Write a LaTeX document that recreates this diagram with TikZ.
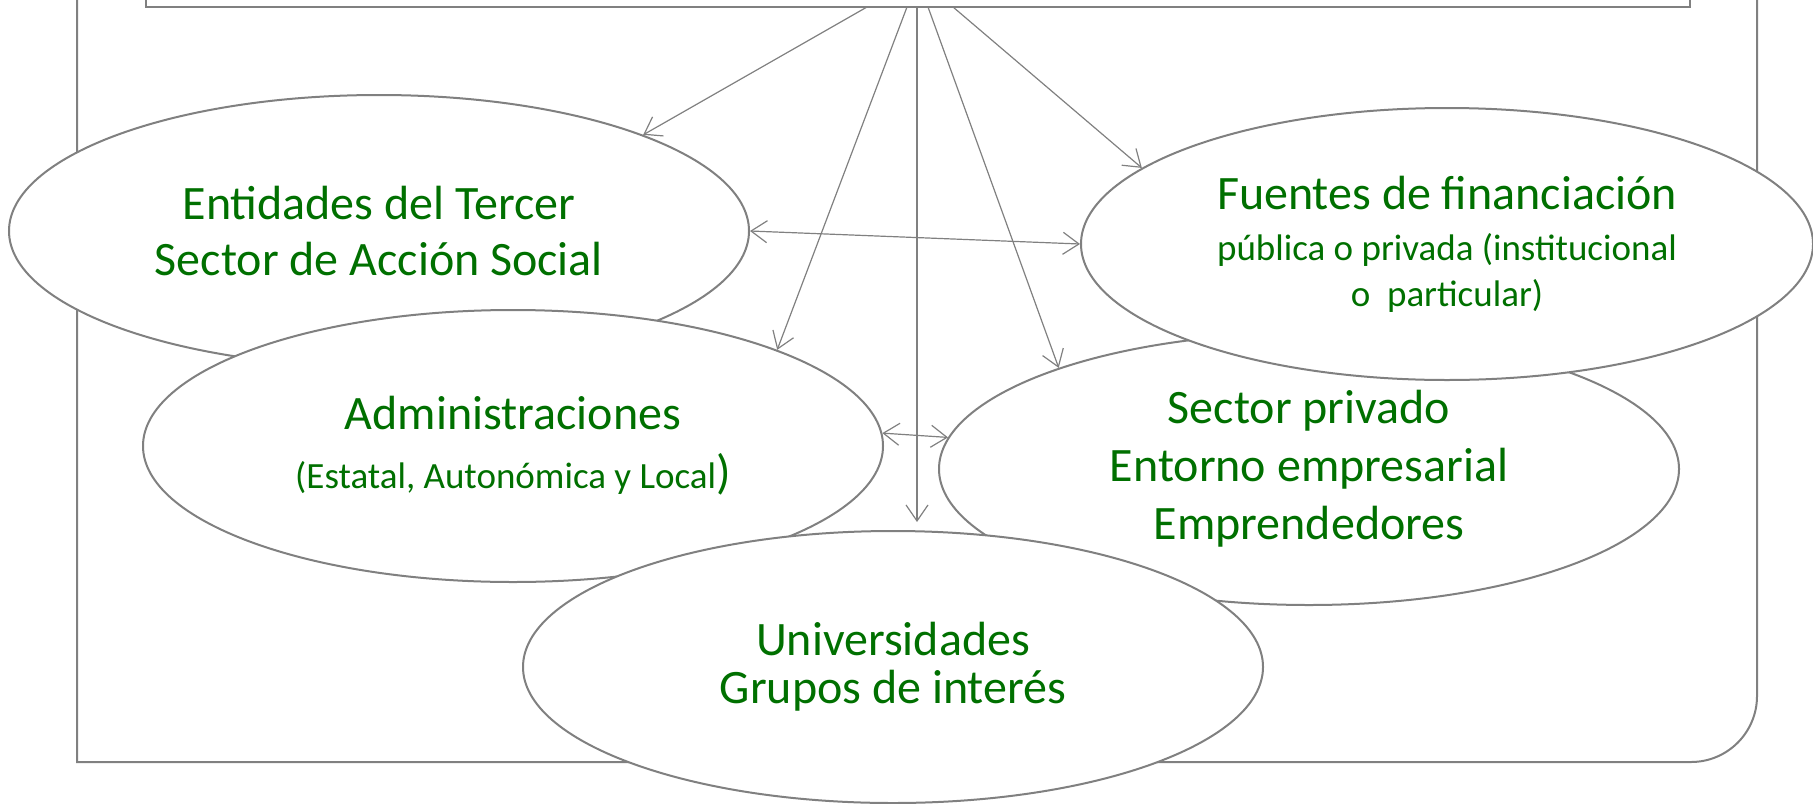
\documentclass[tikz,border=0pt]{standalone}
\usepackage{fontspec}
\setmainfont{Carlito}
\usetikzlibrary{shapes.geometric}
\usetikzlibrary{arrows.meta}
\definecolor{linegray}{RGB}{128,128,128}
\definecolor{txtgreen}{RGB}{0,112,0}
\tikzset{
  ell/.style={ellipse, draw=linegray, line width=1pt, fill=white, text=txtgreen,
    align=center, inner sep=0pt, minimum width=370pt, minimum height=136pt,
    font=\fontsize{24}{28}\selectfont},
  conn/.style={draw=linegray, line width=0.6pt, -{Straight Barb[length=8pt,width=11pt]}},
  conns/.style={conn, {Straight Barb[length=8pt,width=11pt]}-{Straight Barb[length=8pt,width=11pt]}}
}

\begin{document}
\begin{tikzpicture}[x=0.5pt,y=-0.5pt]
  \useasboundingbox (0,0) rectangle (1813,803);
  \draw[linegray, line width=1pt] (77,-20) -- (77,762) -- (1691,762)
    arc[start angle=-90, end angle=0, radius=33pt] -- (1757,-20);
  \draw[linegray, line width=1.3pt] (146,-20) -- (146,7) -- (1690,7) -- (1690,-20);
  \coordinate (o1) at (867,7);
  \coordinate (o2) at (907,7);
  \coordinate (o3) at (917,7);
  \coordinate (o4) at (928,7);
  \coordinate (o5) at (953,7);
  \node[ell] (ent) at (379,231) {Entidades del Tercer\\Sector de Acción Social};
  \node[ell, font=\fontsize{24}{27.5}\selectfont] (adm) at (513,446)
    {Administraciones\\[2pt]\fontsize{18.5}{27.5}\selectfont(Estatal, Autonómica y Local{\fontsize{24}{27.5}\selectfont)}};
  \node[ell, font=\fontsize{24}{29}\selectfont] (sec) at (1309,469)
    {Sector privado\\Entorno empresarial\\Emprendedores};
  \node[ell, minimum width=366pt, font=\fontsize{24}{23}\selectfont] (fue) at (1447,244)
    {Fuentes de financiación\\[2.5pt]\fontsize{18.5}{23}\selectfont pública o privada (institucional\\
     \fontsize{18.5}{23}\selectfont o\ \ particular)};
  \node[ell, font=\fontsize{24}{24}\selectfont] (uni) at (893,667) {Universidades\\Grupos de interés};
  \draw[conn] (o1) -- (ent.20);
  \draw[conn] (o2) -- (adm.20);
  \draw[conn] (o3) -- ([yshift=4pt]o3 |- uni.north);
  \draw[conn] (o4) -- (sec.158);
  \draw[conn] (o5) -- (fue.166);
  \draw[conns] (ent.east) -- (fue.west);
  \draw[conns] (adm.2) -- (sec.175);
\end{tikzpicture}
\end{document}
